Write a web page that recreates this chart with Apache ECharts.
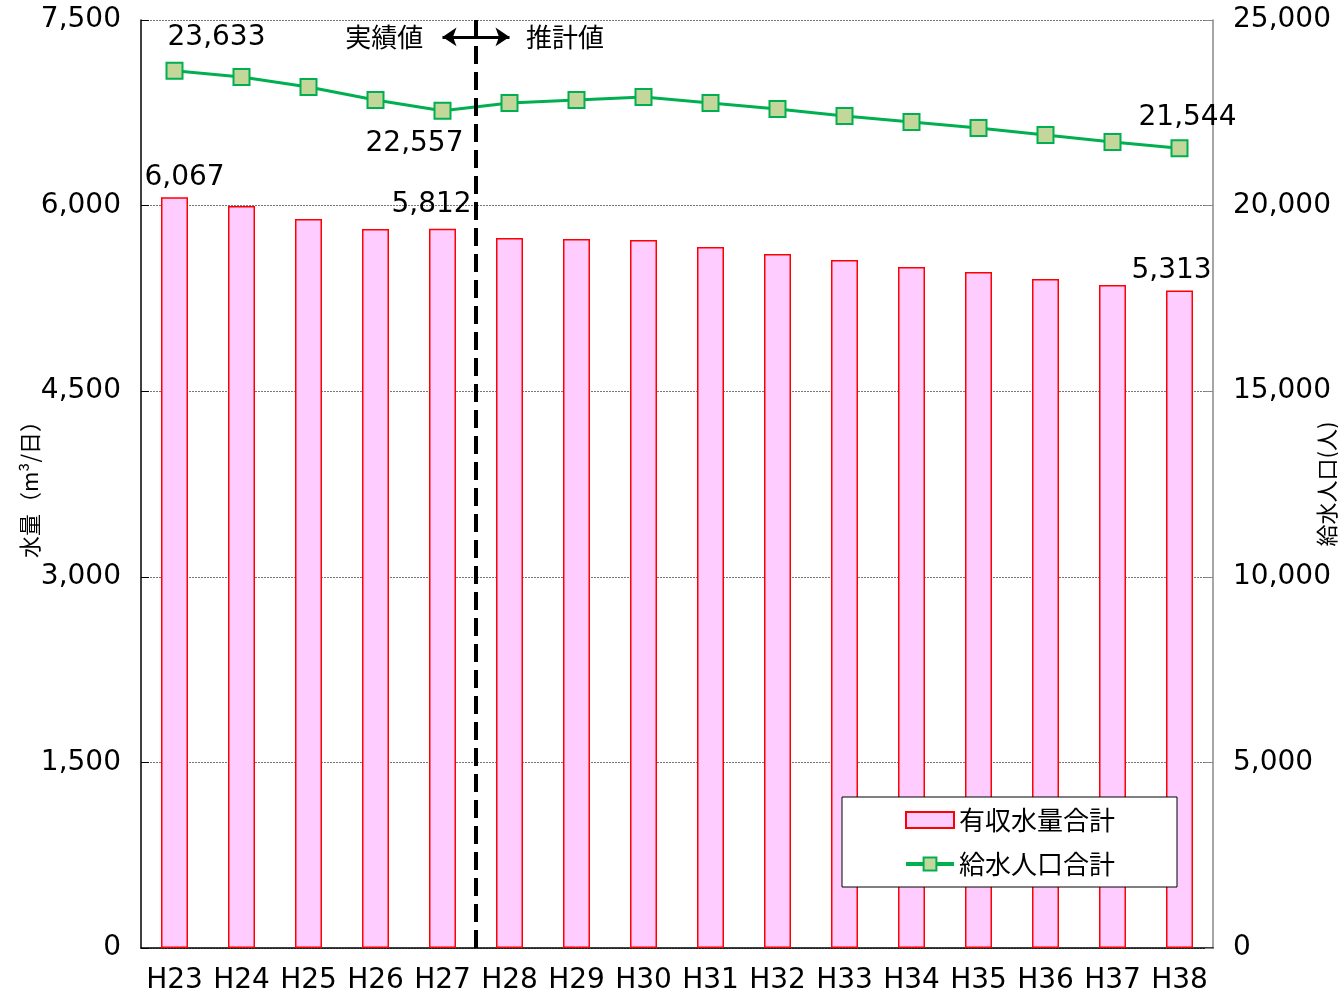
<!DOCTYPE html>
<html>
<head>
<meta charset="utf-8">
<script src="https://cdn.jsdelivr.net/npm/echarts@6/dist/echarts.min.js"></script>
<style>
  html, body { margin: 0; padding: 0; background: #fff; }
  #chart { width: 1338px; height: 991px; }
</style>
</head>
<body>
<div id="chart"></div>
<script>
// 年度
const years = ['H23', 'H24', 'H25', 'H26', 'H27', 'H28', 'H29', 'H30', 'H31', 'H32', 'H33', 'H34', 'H35', 'H36', 'H37', 'H38']
// 有収水量合計 (m3/日)
const waterVolume = [6067, 5997, 5892, 5811, 5812, 5738, 5730, 5722, 5665, 5609, 5560, 5504, 5463, 5407, 5358, 5313]
// 給水人口合計 (人)
const population = [23633, 23465, 23195, 22845, 22557, 22764, 22845, 22926, 22764, 22602, 22414, 22252, 22091, 21902, 21713, 21544]
const leftTicks = { min: 0, max: 7500, interval: 1500 }
const rightTicks = { min: 0, max: 25000, interval: 5000 }

const font = '"DejaVu Sans", "Noto Sans CJK JP", sans-serif'
const jpFont = '"Noto Sans CJK JP", sans-serif'
const fmt = v => v.toLocaleString('en-US')

// ラベルを表示する点
const barLabels = {
  0: { offset: [10, 0] },
  4: { offset: [-11, -4] },
  15: { offset: [-8, 0] }
}
const lineLabels = {
  0: { position: 'top', offset: [42, -2] },
  4: { position: 'bottom', offset: [-28, 2] },
  15: { position: 'top', offset: [8, 0] }
}

const barData = waterVolume.map((v, i) => {
  if (barLabels[i]) {
    return { value: v, label: { show: true, position: 'top', offset: barLabels[i].offset } }
  }
  return v
})
const lineData = population.map((v, i) => {
  if (lineLabels[i]) {
    return { value: v, label: { show: true, position: lineLabels[i].position, offset: lineLabels[i].offset, distance: 8 } }
  }
  return v
})

const chart = echarts.init(document.getElementById('chart'))
const option = {
  backgroundColor: '#fff',
  animation: false,
  textStyle: { fontFamily: font, color: '#000' },
  grid: { left: 141, right: 125, top: 20, bottom: 43, containLabel: false, outerBoundsMode: 'none' },
  legend: {
    orient: 'vertical',
    left: 842,
    top: 797,
    padding: [10, 62, 10, 62],
    itemGap: 18,
    itemWidth: 48,
    itemHeight: 16,
    backgroundColor: '#fff',
    borderColor: '#000',
    borderWidth: 1,
    borderRadius: 0,
    textStyle: { fontSize: 26, color: '#000', fontFamily: jpFont },
    data: [
      { name: '有収水量合計', icon: 'rect' },
      { name: '給水人口合計', lineStyle: { width: 4 } }
    ]
  },
  xAxis: [
    {
      type: 'category',
      data: years,
      axisLine: { lineStyle: { color: '#000', width: 1.5 } },
      axisTick: { inside: true, length: 6, lineStyle: { color: '#000' } },
      axisLabel: { interval: 0, fontSize: 28, color: '#000', margin: 19, fontFamily: font }
    },
    {
      type: 'value',
      min: 0,
      max: years.length,
      show: false
    }
  ],
  yAxis: [
    {
      type: 'value',
      min: leftTicks.min,
      max: leftTicks.max,
      interval: leftTicks.interval,
      name: '水量（m³/日）',
      nameLocation: 'middle',
      nameGap: 100,
      nameRotate: 90,
      nameMoveOverlap: false,
      nameTextStyle: { fontSize: 22, color: '#000', fontFamily: jpFont },
      axisLine: { show: true, lineStyle: { color: '#000', width: 1.5 } },
      axisTick: { show: true, inside: true, length: 8, lineStyle: { color: '#000' } },
      axisLabel: { fontSize: 28, color: '#000', margin: 20, formatter: v => fmt(v), fontFamily: font },
      splitLine: { show: true, lineStyle: { color: '#777', type: [2, 1], width: 1 } }
    },
    {
      type: 'value',
      min: rightTicks.min,
      max: rightTicks.max,
      interval: rightTicks.interval,
      name: '給水人口(人)',
      nameLocation: 'middle',
      nameGap: 103,
      nameRotate: 90,
      nameMoveOverlap: false,
      nameTextStyle: { fontSize: 22, color: '#000', fontFamily: jpFont },
      axisLine: { show: true, lineStyle: { color: '#888', width: 1.5 } },
      axisTick: { show: true, inside: true, length: 8, lineStyle: { color: '#888' } },
      axisLabel: { fontSize: 28, color: '#000', margin: 20, formatter: v => fmt(v), fontFamily: font },
      splitLine: { show: false }
    }
  ],
  series: [
    {
      name: '有収水量合計',
      type: 'bar',
      data: barData,
      barWidth: 27,
      itemStyle: { color: '#ffccff', borderColor: '#ff0000', borderWidth: 1.5 },
      label: { fontSize: 28, color: '#000', fontFamily: font, formatter: p => fmt(p.value), distance: 6 },
      z: 2
    },
    {
      name: '給水人口合計',
      type: 'line',
      yAxisIndex: 1,
      data: lineData,
      symbol: 'rect',
      symbolSize: 16,
      lineStyle: { color: '#00b050', width: 3 },
      itemStyle: { color: '#c4d79b', borderColor: '#00b050', borderWidth: 2 },
      label: { fontSize: 28, color: '#000', fontFamily: font, formatter: p => fmt(p.value) },
      z: 4
    },
    {
      // 実績値 / 推計値 の境界線
      name: 'divider',
      type: 'line',
      xAxisIndex: 1,
      yAxisIndex: 0,
      data: [[5, 0], [5, 7500]],
      symbol: 'none',
      lineStyle: { color: '#000', width: 4, type: [18, 8] },
      silent: true,
      z: 5,
      markLine: {
        silent: true,
        symbol: ['arrow', 'arrow'],
        symbolSize: [14, 14],
        label: { show: false },
        lineStyle: { color: '#000', width: 3, type: 'solid' },
        data: [[{ coord: [4.5, 7363] }, { coord: [5.5, 7363] }]]
      },
      markPoint: {
        silent: true,
        symbol: 'circle',
        symbolSize: 0,
        label: { show: true, position: 'inside', fontSize: 26, color: '#000', fontFamily: jpFont, formatter: p => p.name },
        data: [
          { name: '実績値', coord: [3.63, 7363] },
          { name: '推計値', coord: [6.33, 7363] }
        ]
      }
    }
  ]
}
chart.setOption(option)
window.addEventListener('resize', () => chart.resize())
</script>
</body>
</html>
